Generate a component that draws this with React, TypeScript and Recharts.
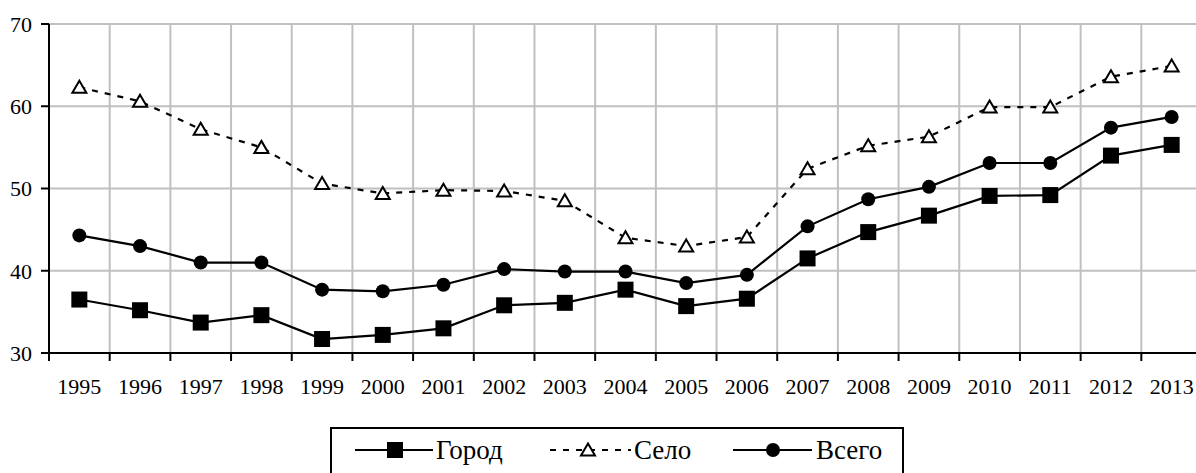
import React from "react";
import { LineChart, Line, XAxis, YAxis, CartesianGrid, Legend } from "recharts";

const years = [
  "1995", "1996", "1997", "1998", "1999", "2000", "2001", "2002", "2003", "2004",
  "2005", "2006", "2007", "2008", "2009", "2010", "2011", "2012", "2013",
];
const gorod = [36.5, 35.2, 33.7, 34.6, 31.7, 32.2, 33.0, 35.8, 36.1, 37.7, 35.7, 36.6, 41.5, 44.7, 46.7, 49.1, 49.2, 54.0, 55.3];
const selo = [62.3, 60.6, 57.2, 55.0, 50.6, 49.4, 49.8, 49.7, 48.5, 44.0, 43.0, 44.1, 52.4, 55.2, 56.3, 59.9, 59.9, 63.6, 64.9];
const vsego = [44.3, 43.0, 41.0, 41.0, 37.7, 37.5, 38.3, 40.2, 39.9, 39.9, 38.5, 39.5, 45.4, 48.7, 50.2, 53.1, 53.1, 57.4, 58.7];
const yTicks = [30, 40, 50, 60, 70];

// position in the middle of each year's cell
const data = years.map((year, i) => ({
  year,
  pos: i + 0.5,
  gorod: gorod[i],
  selo: selo[i],
  vsego: vsego[i],
}));
const edgeTicks = years.map((_, i) => i).concat(years.length);
const midTicks = data.map((d) => d.pos);

const FONT = "Liberation Serif";
const DASH = "6 7";

const Square = (props: any) => {
  const { cx, cy, index } = props;
  if (cx == null || cy == null) return null;
  return <rect key={`s${index}`} x={cx - 8} y={cy - 8} width={16} height={16} fill="#000" />;
};

const Tri = (props: any) => {
  const { cx, cy, index } = props;
  if (cx == null || cy == null) return null;
  return (
    <polygon
      key={`t${index}`}
      points={`${cx},${cy - 6.5} ${cx + 7},${cy + 5.5} ${cx - 7},${cy + 5.5}`}
      fill="#fff"
      stroke="#000"
      strokeWidth={2}
    />
  );
};

const Dot = (props: any) => {
  const { cx, cy, index } = props;
  if (cx == null || cy == null) return null;
  return <circle key={`c${index}`} cx={cx} cy={cy} r={7} fill="#000" />;
};

const NoLabel = () => <g />;

const renderLegend = () => (
  <svg width={574} height={60} style={{ display: "block" }}>
    <rect x={1} y={1} width={572} height={70} fill="#fff" stroke="#000" strokeWidth={2} />
    <g fontFamily={FONT} fontSize={27} fill="#000">
      <line x1={25} y1={23} x2={103} y2={23} stroke="#000" strokeWidth={2.2} />
      <rect x={57} y={15} width={16} height={16} fill="#000" />
      <text x={106} y={32}>Город</text>

      <line x1={220} y1={23} x2={301} y2={23} stroke="#000" strokeWidth={2.2} strokeDasharray={DASH} />
      <polygon points="258,16.5 265,28.5 251,28.5" fill="#fff" stroke="#000" strokeWidth={2} />
      <text x={304} y={32}>Село</text>

      <line x1={403} y1={23} x2={482} y2={23} stroke="#000" strokeWidth={2.2} />
      <circle cx={443} cy={23} r={7} fill="#000" />
      <text x={486} y={32}>Всего</text>
    </g>
  </svg>
);

const tickStyle = { fill: "#000", fontSize: 22, fontFamily: FONT };

export default function App() {
  return (
    <div
      style={{
        position: "absolute",
        left: 0,
        top: 0,
        width: 1196,
        height: 473,
        overflow: "hidden",
        background: "#fff",
        fontFamily: FONT,
      }}
    >
      <LineChart
        width={1210}
        height={473}
        data={data}
        margin={{ top: 24, right: 8, bottom: 60, left: 0 }}
      >
        <CartesianGrid stroke="#c0c0c0" strokeWidth={2} xAxisId={0} yAxisId={0} />
        <XAxis
          xAxisId={0}
          type="number"
          dataKey="pos"
          domain={[0, years.length]}
          allowDataOverflow
          ticks={edgeTicks}
          interval={0}
          tick={NoLabel}
          height={8}
          tickSize={8}
          axisLine={{ stroke: "#000", strokeWidth: 2 }}
          tickLine={{ stroke: "#000", strokeWidth: 2 }}
        />
        <XAxis
          xAxisId="lbl"
          type="number"
          dataKey="pos"
          domain={[0, years.length]}
          allowDataOverflow
          ticks={midTicks}
          interval={0}
          tickFormatter={(v: number) => years[Math.floor(v)]}
          height={52}
          tickSize={0}
          tickMargin={17}
          axisLine={false}
          tickLine={false}
          tick={tickStyle}
        />
        <YAxis
          yAxisId={0}
          domain={[30, 70]}
          ticks={yTicks}
          allowDataOverflow
          width={49}
          tickSize={8}
          tickMargin={9}
          interval={0}
          axisLine={{ stroke: "#000", strokeWidth: 2 }}
          tickLine={{ stroke: "#000", strokeWidth: 2 }}
          tick={tickStyle}
        />
        <Legend
          verticalAlign="middle"
          align="center"
          layout="horizontal"
          wrapperStyle={{ left: 330, top: 427, width: 574, height: 60 }}
          content={renderLegend}
        />
        <Line
          xAxisId={0}
          dataKey="gorod"
          name="Город"
          stroke="#000"
          strokeWidth={2.2}
          dot={Square}
          isAnimationActive={false}
        />
        <Line
          xAxisId={0}
          dataKey="selo"
          name="Село"
          stroke="#000"
          strokeWidth={2.2}
          strokeDasharray={DASH}
          dot={Tri}
          isAnimationActive={false}
        />
        <Line
          xAxisId={0}
          dataKey="vsego"
          name="Всего"
          stroke="#000"
          strokeWidth={2.2}
          dot={Dot}
          isAnimationActive={false}
        />
      </LineChart>
    </div>
  );
}
